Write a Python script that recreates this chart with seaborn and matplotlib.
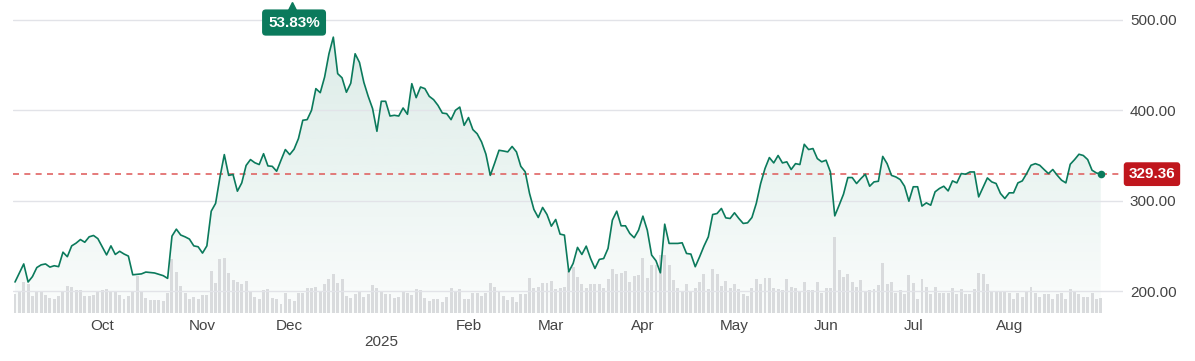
import numpy as np
import pandas as pd
import matplotlib
matplotlib.use("Agg")
import matplotlib.pyplot as plt
import matplotlib.colors as mcolors
import seaborn as sns

# Daily closes (one value per trading day)
prices_sep_oct = [210, 220, 230, 210, 216, 226, 229, 230, 226.5, 228, 227, 243, 238, 250, 253,
                  257, 254, 260, 261.5, 258, 249, 240, 250, 240.5, 244, 241, 238.7, 218, 218.5,
                  219, 221, 220.5, 220, 218.5, 217]
prices_oct_dec = [214, 260.8, 268.5, 262, 260, 257.5, 250, 249, 242, 250, 288.4, 297, 326, 351,
                  328, 329, 310.5, 319.7, 339, 345.5, 342, 340, 352, 338.5, 338, 332.6, 344.8,
                  356.6, 351, 357, 368.7, 389, 389.7, 400, 424, 419.5]
prices_dec_jan = [436.8, 462.6, 481, 440.6, 436, 420, 430, 462.6, 453, 431, 415.5, 402, 376.8,
                  410, 410, 393.7, 394.5, 393.7, 402.6, 395.6, 429.5, 414, 425.8, 424, 415.5,
                  411.8, 405.5, 397, 396.3, 389.7, 400, 403.6, 383.4, 392, 378.7]
prices_feb_mar = [374, 365, 351.4, 328, 341.6, 355.8, 355, 354, 360, 354, 338, 332, 308, 290.3,
                  281.4, 292.5, 284.7, 271.8, 279.2, 263, 261.9, 221.3, 230.6, 248.3, 240.5,
                  249.7, 236, 225, 235, 236, 247.2, 278.5, 288.4, 272.2, 272.2, 263.7]
prices_apr_may = [259, 267.4, 282.9, 267.4, 239.8, 233.5, 220.2, 274, 252.7, 252.7, 252.7, 253.4,
                  241.6, 240.9, 226.9, 237.9, 249.7, 260, 284.7, 285.8, 291.4, 281, 280.3, 286.6,
                  280.3, 274.8, 275.5, 281.4, 297, 319, 335.6, 347.7, 341.8, 350, 341.8]
prices_may_jul = [343, 334.5, 341, 340, 362.4, 356.6, 357.7, 346.6, 343, 344.8, 331.8, 283.2, 295,
                  307.2, 325.6, 325.6, 319, 324.5, 329.3, 316, 320.8, 321.5, 349, 341, 328, 326.3,
                  323.4, 316, 299.4, 315.4, 315.4, 294, 297.6, 295, 309.8, 313.5]
prices_jul_sep = [316, 310.8, 321.9, 319.7, 330, 329.3, 331.8, 331.8, 304.2, 314.6, 325.2, 320.8,
                  319, 308, 302.4, 308.7, 308.7, 319.7, 321.9, 330, 339.2, 341, 339.2, 334.5, 330,
                  334.5, 328.2, 322.7, 319.7, 340.3, 345.5, 351.4, 350, 345.5, 333.7, 330.7, 329.36]

# Daily volume in millions of shares
volume_sep_oct = [73, 79, 117, 111, 63, 79, 82, 70, 57, 53, 63, 79, 101, 98, 86, 86, 63, 63, 70, 79,
                  89, 91, 82, 82, 67, 53, 63, 82, 139, 82, 57, 48, 48, 48, 44]
volume_oct_dec = [77, 204, 156, 104, 77, 52, 61, 52, 67, 67, 161, 113, 204, 208, 151, 125, 118, 109,
                  123, 85, 62, 52, 87, 90, 56, 52, 34, 75, 52, 46, 75, 77, 96, 96, 100, 81]
volume_dec_jan = [109, 128, 148, 113, 128, 65, 58, 71, 81, 62, 71, 105, 96, 81, 71, 71, 56, 62, 81,
                  77, 67, 90, 87, 56, 47, 52, 52, 43, 60, 96, 81, 90, 52, 52, 75]
volume_feb_mar = [77, 65, 75, 115, 98, 85, 65, 49, 60, 42, 71, 71, 132, 94, 100, 113, 115, 123, 90,
                  96, 98, 160, 176, 138, 110, 94, 110, 110, 110, 94, 128, 166, 148, 153, 161, 119]
volume_apr_may = [141, 144, 210, 134, 181, 181, 220, 219, 181, 125, 96, 79, 110, 81, 96, 118, 147,
                  92, 167, 148, 104, 123, 96, 110, 92, 71, 66, 96, 128, 110, 134, 134, 96, 90, 87]
volume_may_jul = [128, 100, 94, 79, 119, 87, 87, 119, 77, 96, 96, 288, 163, 138, 148, 119, 100, 125,
                  81, 87, 91, 106, 189, 110, 119, 77, 87, 72, 144, 115, 52, 129, 100, 72, 98, 77]
volume_jul_sep = [77, 77, 94, 72, 91, 72, 72, 90, 151, 148, 110, 85, 81, 81, 85, 75, 52, 75, 62, 85,
                  100, 77, 62, 72, 72, 52, 72, 77, 52, 90, 81, 72, 62, 62, 75, 52, 58]

prices = (prices_sep_oct + prices_oct_dec + prices_dec_jan + prices_feb_mar
          + prices_apr_may + prices_may_jul + prices_jul_sep)
volumes = (volume_sep_oct + volume_oct_dec + volume_dec_jan + volume_feb_mar
           + volume_apr_may + volume_may_jul + volume_jul_sep)

market_holidays = ["2024-11-28", "2024-12-25", "2025-01-01", "2025-01-09", "2025-01-20",
                   "2025-02-17", "2025-04-18", "2025-05-26", "2025-06-19", "2025-07-04",
                   "2025-09-01"]
last_price = 329.36
change_text = "53.83%"
y_ticks = [200, 300, 400, 500]

dates = pd.bdate_range("2024-09-03", periods=len(prices), freq="C", holidays=market_holidays)
df = pd.DataFrame({"date": dates, "price": prices, "volume": volumes})
df["i"] = np.arange(len(df))

sns.set_theme(style="white")
plt.rcParams["font.family"] = ["Liberation Sans", "DejaVu Sans"]

GREEN = "#0b7a5c"
RED = "#c0161d"
TXT = "#444444"

fig = plt.figure(figsize=(11.95, 3.61), dpi=100)
ax = fig.add_axes([13 / 1195, 48 / 361, 1110 / 1195, 313 / 361])

y_lo, y_hi = 175.7, 522.1
vol_top = 1190.0  # volume value that would reach the top of the axes

# gradient area under the price line
area = ax.fill_between(df["i"], df["price"], y_lo, color="none", lw=0)
rgba = np.zeros((256, 1, 4))
rgba[..., :3] = mcolors.to_rgb(GREEN)
rgba[..., 3] = np.linspace(0.02, 0.16, 256).reshape(-1, 1)
img = ax.imshow(rgba, extent=[0, len(df) - 1, y_lo, y_hi], origin="lower",
                aspect="auto", zorder=1, interpolation="bilinear")
img.set_clip_path(area.get_paths()[0], transform=ax.transData)

# volume bars along the bottom
ax.bar(df["i"], df["volume"] / vol_top, width=0.68, bottom=0, color="#d9dbdd",
       transform=ax.get_xaxis_transform(), zorder=1.5, lw=0)

sns.lineplot(data=df, x="i", y="price", color=GREEN, lw=1.2, ax=ax, zorder=3)
ax.axhline(last_price, color="#e06464", lw=1.2, ls=(0, (3.6, 3.2)), zorder=2.6)
ax.scatter([df["i"].iloc[-1]], [last_price], s=30, color=GREEN, zorder=4, lw=0)

ax.set_xlim(-0.46, 254.1)
ax.set_ylim(y_lo, y_hi)

# month ticks on the first trading day of each month
month_first = df.groupby(df["date"].dt.to_period("M"))["i"].min().iloc[1:-1]
tick_labels = ["\n2025" if p.month == 1 else p.strftime("%b") for p in month_first.index]
ax.set_xticks(month_first.values)
ax.set_xticklabels(tick_labels)
ax.tick_params(axis="x", length=0, pad=4.5, labelsize=11, labelcolor=TXT)

ax.yaxis.tick_right()
ax.set_yticks(y_ticks)
ax.set_yticklabels([f"{v:.2f}" for v in y_ticks])
ax.tick_params(axis="y", length=0, pad=5, labelsize=11, labelcolor=TXT)
ax.set_axisbelow(False)
ax.grid(axis="y", color="#e2e3e8", lw=1)
ax.grid(axis="x", visible=False)
ax.set_xlabel("")
ax.set_ylabel("")
sns.despine(ax=ax, left=True, bottom=True, right=True, top=True)

ax.annotate(f"{last_price:.2f}", xy=(1.0261, last_price), xycoords=("axes fraction", "data"),
            ha="center", va="center", color="white", fontsize=11, fontweight="bold",
            bbox=dict(boxstyle="round,pad=0.32,rounding_size=0.2", fc=RED, ec="none"),
            annotation_clip=False, zorder=5)

ax.text(0.2532, 0.928, change_text, transform=ax.transAxes, ha="center", va="center",
        color="white", fontsize=11, fontweight="bold", zorder=5,
        bbox=dict(boxstyle="round,pad=0.4,rounding_size=0.25", fc=GREEN, ec="none"))
ax.plot(0.2515, 0.982, marker="^", ms=6, color=GREEN, transform=ax.transAxes,
        clip_on=False, zorder=5)

fig.savefig("out.png", dpi=100)
